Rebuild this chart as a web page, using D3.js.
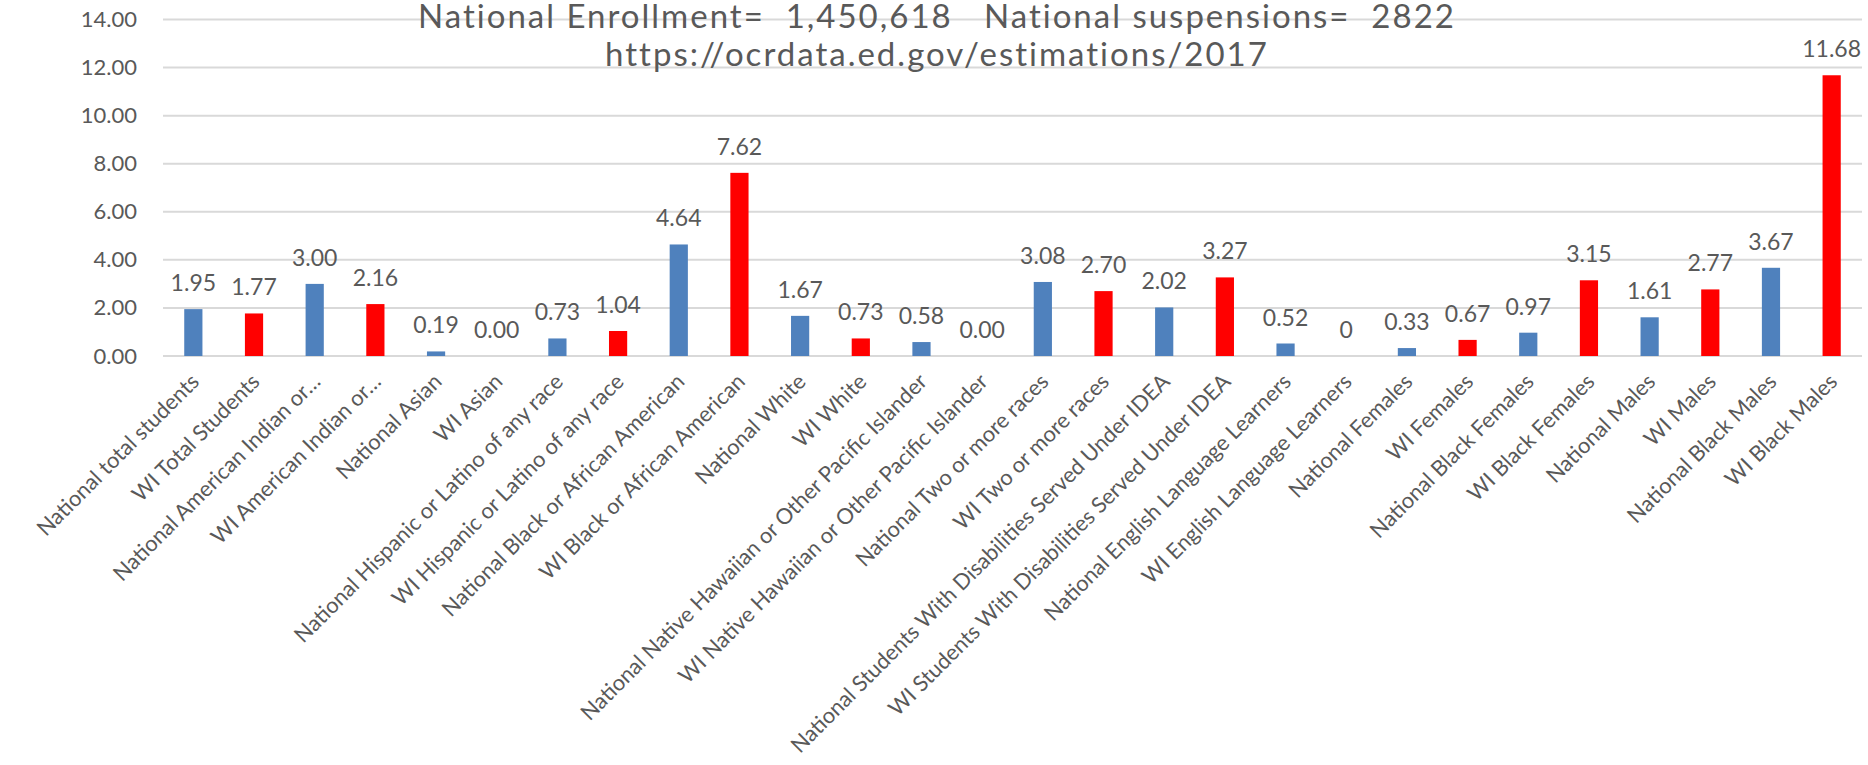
<!DOCTYPE html>
<html>
<head>
<meta charset="utf-8">
<script src="https://cdn.jsdelivr.net/npm/d3@7"></script>
<style>
  html, body { margin: 0; padding: 0; background: #ffffff; }
  svg { display: block; font-family: Lato, "Open Sans", sans-serif; }
</style>
</head>
<body>
<svg id="chart" width="1868" height="765"></svg>
<script>
const categories = [
  "National total students", "WI Total Students",
  "National American Indian or…", "WI American Indian or…",
  "National Asian", "WI Asian",
  "National Hispanic or Latino of any race", "WI Hispanic or Latino of any race",
  "National Black or African American", "WI Black or African American",
  "National White", "WI White",
  "National Native Hawaiian or Other Pacific Islander", "WI Native Hawaiian or Other Pacific Islander",
  "National Two or more races", "WI Two or more races",
  "National Students With Disabilities Served Under IDEA", "WI Students With Disabilities Served Under IDEA",
  "National English Language Learners", "WI English Language Learners",
  "National Females", "WI Females",
  "National Black Females", "WI Black Females",
  "National Males", "WI Males",
  "National Black Males", "WI Black Males"
];
const values = [
  1.95, 1.77, 3.00, 2.16, 0.19, 0.00, 0.73, 1.04, 4.64, 7.62,
  1.67, 0.73, 0.58, 0.00, 3.08, 2.70, 2.02, 3.27, 0.52, 0,
  0.33, 0.67, 0.97, 3.15, 1.61, 2.77, 3.67, 11.68
];
const valueLabels = [
  "1.95", "1.77", "3.00", "2.16", "0.19", "0.00", "0.73", "1.04", "4.64", "7.62",
  "1.67", "0.73", "0.58", "0.00", "3.08", "2.70", "2.02", "3.27", "0.52", "0",
  "0.33", "0.67", "0.97", "3.15", "1.61", "2.77", "3.67", "11.68"
];
const groups = [
  "National", "WI", "National", "WI", "National", "WI", "National", "WI", "National", "WI",
  "National", "WI", "National", "WI", "National", "WI", "National", "WI", "National", "WI",
  "National", "WI", "National", "WI", "National", "WI", "National", "WI"
];
const yTicks = [0, 2, 4, 6, 8, 10, 12, 14];
const titleLines = [
  "National Enrollment=  1,450,618   National suspensions=  2822",
  "https://ocrdata.ed.gov/estimations/2017"
];

const colors = { "National": "#4F81BD", "WI": "#FF0000" };
const textColor = "#595959";

const svg = d3.select("#chart");
const plot = { left: 163, right: 1862, top: 19.5, bottom: 356 };

const x = d3.scaleBand().domain(categories).range([plot.left, plot.right]).paddingInner(0.7).paddingOuter(0.35);
const y = d3.scaleLinear().domain([0, 14]).range([plot.bottom, plot.top]);

// gridlines
svg.append("g").selectAll("line").data(yTicks).join("line")
  .attr("x1", plot.left).attr("x2", plot.right)
  .attr("y1", d => y(d)).attr("y2", d => y(d))
  .attr("stroke", "#D9D9D9").attr("stroke-width", 2);

// y axis labels
const yAxis = d3.axisLeft(y).tickValues(yTicks).tickFormat(d3.format(".2f")).tickSize(0).tickPadding(0);
const yg = svg.append("g").attr("transform", `translate(${137},0)`).call(yAxis);
yg.select(".domain").remove();
yg.selectAll("text").attr("fill", textColor).style("font-size", "22px").style("font-family", "Lato, sans-serif");

// bars
svg.append("g").selectAll("rect").data(categories).join("rect")
  .attr("x", d => x(d))
  .attr("width", x.bandwidth())
  .attr("y", (d, i) => y(values[i]))
  .attr("height", (d, i) => y(0) - y(values[i]))
  .attr("fill", (d, i) => colors[groups[i]]);

// value labels
svg.append("g").selectAll("text").data(categories).join("text")
  .attr("x", d => x(d) + x.bandwidth() / 2)
  .attr("y", (d, i) => y(values[i]) - 18)
  .attr("text-anchor", "middle")
  .attr("fill", textColor)
  .style("font-size", "23px")
  .text((d, i) => valueLabels[i]);

// category labels
const xAxis = d3.axisBottom(x).tickSize(0).tickPadding(0);
const xg = svg.append("g").attr("transform", `translate(0,${plot.bottom})`).call(xAxis);
xg.select(".domain").remove();
xg.selectAll(".tick text")
  .attr("fill", textColor)
  .style("font-size", "21.8px")
  .style("font-family", "Lato, sans-serif")
  .attr("text-anchor", "end")
  .attr("dy", 0)
  .attr("y", 0)
  .attr("transform", "translate(7,27) rotate(-45)");

// title
svg.append("g").selectAll("text").data(titleLines).join("text")
  .attr("x", 937)
  .attr("y", (d, i) => 28 + i * 38)
  .attr("text-anchor", "middle")
  .attr("fill", textColor)
  .style("font-size", "33px")
  .style("letter-spacing", "2px")
  .style("white-space", "pre")
  .attr("xml:space", "preserve")
  .text(d => d);
</script>
</body>
</html>
